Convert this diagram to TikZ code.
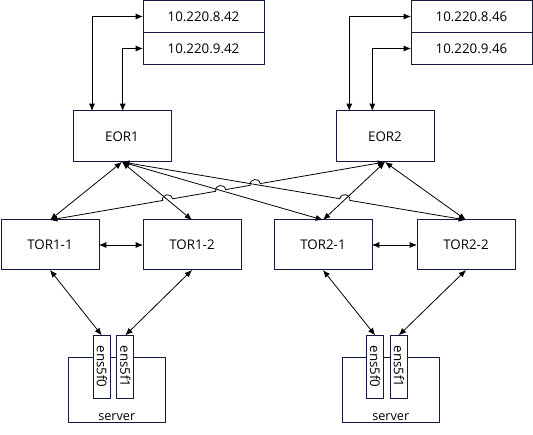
\documentclass[tikz,border=0pt]{standalone}
\usepackage{fontspec}
\setmainfont{Open Sans}
\usetikzlibrary{arrows.meta,calc,intersections}
\definecolor{boxline}{RGB}{18,28,64}
\tikzset{every picture/.style={line width=0.75pt}}
\tikzset{
  netbox/.style={draw=boxline, inner sep=0pt, outer sep=0pt, minimum width=73.5pt, minimum height=37.5pt, font=\fontsize{10pt}{12pt}\selectfont},
  ipbox/.style={netbox, minimum width=90.75pt, minimum height=24pt},
  nicbox/.style={netbox, fill=white, minimum width=12.75pt, minimum height=47pt},
  srvbox/.style={draw=boxline, inner sep=0pt, outer sep=0pt, minimum width=72.75pt, minimum height=48.75pt},
  arr/.style={<->, >={Latex[length=5.5pt,width=4.5pt]}, line width=0.6pt},
  hop/.style={bend right=90, looseness=1.7},
}
\newcommand{\hopr}{3.75pt}

\begin{document}
\begin{tikzpicture}[x=0.75pt,y=0.75pt,yscale=-1,xscale=1]
\useasboundingbox (0,0) rectangle (533,435);

%Shape: Rectangle -- address boxes
\node[ipbox] (ip1a) at (203.5,16.5) {10.220.8.42};
\node[ipbox] (ip1b) at (203.5,48.5) {10.220.9.42};
\node[ipbox] (ip2a) at (471.5,16.5) {10.220.8.46};
\node[ipbox] (ip2b) at (471.5,48.5) {10.220.9.46};

%Shape: Rectangle -- EOR / TOR
\node[netbox, minimum height=38.25pt] (eor1) at (122,136.5) {EOR1};
\node[netbox, minimum height=38.25pt] (eor2) at (385,136.5) {EOR2};
\node[netbox] (tor11) at (50,245) {TOR1-1};
\node[netbox] (tor12) at (192,245) {TOR1-2};
\node[netbox] (tor21) at (323,245) {TOR2-1};
\node[netbox] (tor22) at (466,245) {TOR2-2};

%Shape: Rectangle -- servers
\node[srvbox] (srv1) at (116.8,389.8) {};
\node[srvbox] (srv2) at (390.8,389.8) {};
\node[anchor=base, inner sep=0pt, font=\fontsize{9.5pt}{11pt}\selectfont] (srv1txt) at (116.8,420.5) {server};
\node[anchor=base, inner sep=0pt, font=\fontsize{9.5pt}{11pt}\selectfont] (srv2txt) at (390.8,420.5) {server};
\node[nicbox] (nic10) at (101.8,366.7) {\rotatebox{-90}{ens5f0}};
\node[nicbox] (nic11) at (125.3,366.7) {\rotatebox{-90}{ens5f1}};
\node[nicbox] (nic20) at (375.2,366.7) {\rotatebox{-90}{ens5f0}};
\node[nicbox] (nic21) at (398.8,366.7) {\rotatebox{-90}{ens5f1}};

%Connectors -- addresses to EOR
\draw[arr] (ip1a.west) -| ([xshift=-22.5pt]eor1.north);
\draw[arr] (ip1b.west) -| ([xshift=0.5pt]eor1.north);
\draw[arr] (ip2a.west) -| ([xshift=-26.8pt]eor2.north);
\draw[arr] (ip2b.west) -| ([xshift=-9.5pt]eor2.north);

%Straight Lines -- crossing points for the line jumps
\path[name path=eb] (eor1.south) -- (tor12.north);
\path[name path=ec] (eor1.south) -- (tor21.north);
\path[name path=ed] (eor1.south) -- (tor22.north);
\path[name path=ee] (tor11.north) -- (eor2.south);
\path[name path=ef] (eor2.south) -- (tor21.north);
\path[name intersections={of=ee and eb,by=x1}];
\path[name intersections={of=ee and ec,by=x2}];
\path[name intersections={of=ee and ed,by=x3}];
\path[name intersections={of=ed and ef,by=x4}];

%Connectors -- EOR to TOR
\draw[arr] (tor11.north) -- ($(x1)!\hopr!(tor11.north)$) to[hop] ($(x1)!\hopr!(eor2.south)$)
  -- ($(x2)!\hopr!(tor11.north)$) to[hop] ($(x2)!\hopr!(eor2.south)$)
  -- ($(x3)!\hopr!(tor11.north)$) to[hop] ($(x3)!\hopr!(eor2.south)$) -- (eor2.south);
\draw[arr] (eor1.south) -- ($(x4)!\hopr!(eor1.south)$) to[hop] ($(x4)!\hopr!(tor22.north)$) -- (tor22.north);
\draw[arr] (eor1.south) -- (tor11.north);
\draw[arr] (eor1.south) -- (tor12.north);
\draw[arr] (eor1.south) -- (tor21.north);
\draw[arr] (eor2.south) -- (tor21.north);
\draw[arr] (eor2.south) -- (tor22.north);

%Connectors -- TOR pairs and servers
\draw[arr] (tor11.east) -- (tor12.west);
\draw[arr] (tor21.east) -- (tor22.west);
\draw[arr] (tor11.south) -- (nic10.north);
\draw[arr] (tor12.south) -- (nic11.north);
\draw[arr] (tor21.south) -- (nic20.north);
\draw[arr] (tor22.south) -- (nic21.north);

\end{tikzpicture}
\end{document}
